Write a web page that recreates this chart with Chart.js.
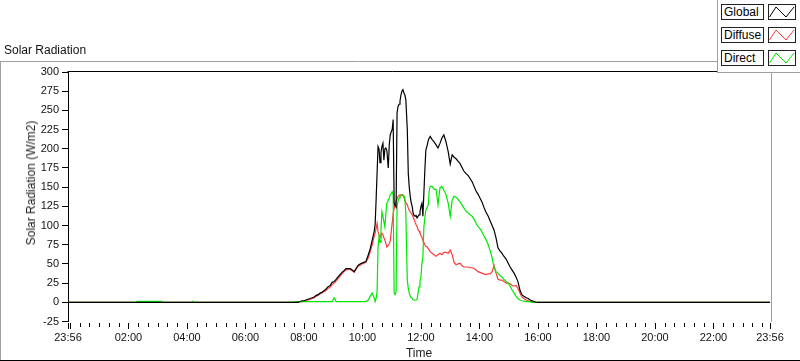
<!DOCTYPE html>
<html>
<head>
<meta charset="utf-8">
<script src="https://cdn.jsdelivr.net/npm/chart.js@4.4.0/dist/chart.umd.min.js"></script>
<style>
html,body{margin:0;padding:0;background:#fff;}
#wrap{position:relative;width:800px;height:361px;overflow:hidden;font-family:"Liberation Sans",Arial,sans-serif;}
#c{position:absolute;left:0;top:0;}
.title{position:absolute;left:4px;top:43px;font-size:12px;line-height:14px;color:#111;white-space:nowrap;}
.ytitle{position:absolute;left:31px;top:183px;font-size:12px;line-height:14px;color:#222;white-space:nowrap;transform:translate(-50%,-50%) rotate(-90deg);}
#legend{position:absolute;left:717px;top:0;width:83px;height:73px;background:#fff;border-left:1px solid #a0a0a0;border-bottom:1px solid #a0a0a0;box-sizing:border-box;}
.lt{position:absolute;left:3px;width:43px;height:16px;border:1px solid #222;box-sizing:border-box;font-size:12px;line-height:14px;padding-left:2px;color:#000;white-space:nowrap;}
.ls{position:absolute;left:50px;width:28px;height:16px;border:1px solid #222;box-sizing:border-box;}
.ls svg{position:absolute;left:0;top:0;}
</style>
</head>
<body>
<div id="wrap">
<canvas id="c" width="800" height="361"></canvas>
<div class="title">Solar Radiation</div>
<div class="ytitle">Solar Radiation (W/m2)</div>
<div id="legend"></div>
</div>
<script>
// ---- data (minutes since midnight) ----
const timesMin = [-4,136,138,188,190,250,252,254,456,
464,468,472,476,480,484,488,493,497,501,505,509,513,517,521,525,529,534,538,542,546,550,554,558,562,566,571,575,579,583,587,591,595,599,603,607,612,616,620,624,
626,628,630,632,634,636,638,640,642,644,646,648,650,653,655,657,659,661,663,665,667,669,671,673,675,677,679,681,683,685,687,689,692,694,696,698,700,702,704,706,708,710,712,714,716,718,720,722,724,726,728,730,733,735,737,
739,743,747,751,755,759,763,767,771,776,780,784,788,792,796,800,804,808,812,817,821,825,829,833,837,841,845,849,853,858,862,866,870,874,878,882,886,890,895,899,903,907,911,915,919,923,927,931,936,940,944,948,952,956,1436];

const globalRad = [0,0,0,0,0,0,0,0,0,
0,0,1,2,2,3,4,5,6,7,9,10,12,13,15,17,20,22,26,27,30,33,36,39,41,44,44,44,42,40,44,48,50,51,52,53,62,70,81,92,
101,133,168,203,200,182,195,203,207,185,200,201,198,175,205,218,222,225,238,130,126,124,247,255,258,262,270,275,277,273,270,264,225,168,150,138,130,125,116,113,112,113,110,112,114,118,125,129,112,142,172,198,205,211,214,
216,212,209,205,201,207,214,218,210,196,180,192,189,187,184,181,176,171,168,165,161,157,151,145,141,136,131,124,118,112,106,100,94,84,71,67,64,60,56,51,46,42,38,33,27,16,10,8,6,5,3,2,1,0,0];

const diffuseRad = [0,0,0,0,0,0,0,0,0,
0,0,0.5,1,1.5,2,3,4,5,6,8,9,11,12,14,15,18,20,23,25,28,31,34,37,40,42,43,43,41,39,43,47,48,50,51,52,58,66,75,86,
90,96,103,92,88,85,88,90,88,84,81,77,72,74,76,80,92,103,116,122,128,132,135,138,139,140,140,140,139,137,133,130,127,123,120,118,116,114,111,108,104,101,99,95,93,90,87,85,80,78,75,73,72,70,68,
66,64,62,60,62,64,62,65,65,64,68,62,52,49,50,51,48,46,46,46,45,45,44,42,40,39,38,37,36,37,37,40,48,38,30,29,29,27,25,25,24,22,21,22,18,12,7,5,3,2,1.5,1,0,0,0];

const directRad = [0,0,1.2,1.2,0,0,1.2,0,0,
1,1,1,1,1,1,1,1,1,1,1,1,1,1,1,1,1,1,1,6,1,1,1,1,1,1,1,1,1,1,1,1,1,1,1,1,3,8,12,6,
1,5,14,72,85,78,95,118,112,105,98,115,129,133,136,140,142,144,140,12,10,14,125,132,136,138,139,140,140,139,135,115,29,18,12,8,6,5,3,3,3,3,4,12,20,28,33,51,59,98,110,120,124,127,146,
151,151,147,147,127,149,151,146,141,129,112,133,138,137,134,131,127,123,119,116,114,112,108,103,99,96,92,87,82,75,67,58,45,40,38,35,33,30,27,25,21,16,12,8,5,3,2,1.5,1,1,0.5,0,0,0,0];

const yTickValues = [-25,0,25,50,75,100,125,150,175,200,225,250,275,300];
const xLabelMinutes = [-4,120,240,360,480,600,720,840,960,1080,1200,1320,1436];
const xLabelTexts = ['23:56','02:00','04:00','06:00','08:00','10:00','12:00','14:00','16:00','18:00','20:00','22:00','23:56'];
const xMinorStep = 20;
const seriesNames = ['Global','Diffuse','Direct'];
const seriesColors = ['#000000','#ff3c3c','#00e800'];

// ---- legend (HTML) ----
const legend = document.getElementById('legend');
seriesNames.forEach((name, i) => {
  const top = 4 + i * 23;
  const t = document.createElement('div');
  t.className = 'lt'; t.style.top = top + 'px'; t.textContent = name;
  const s = document.createElement('div');
  s.className = 'ls'; s.style.top = top + 'px';
  s.innerHTML = '<svg width="26" height="14"><polyline points="0.5,12 7,2 17,12 25,2" fill="none" stroke="' + seriesColors[i] + '" stroke-width="1"/></svg>';
  legend.appendChild(t); legend.appendChild(s);
});

const toXY = arr => timesMin.map((t, i) => ({x: t, y: arr[i]}));
const FONT = {family: '"Liberation Sans", Arial, sans-serif', size: 11};

const framePlugin = {
  id: 'frame',
  afterDraw(chart) {
    const ctx = chart.ctx, ca = chart.chartArea, xs = chart.scales.x;
    ctx.save();
    ctx.lineWidth = 1;
    ctx.strokeStyle = '#a0a0a0';
    ctx.beginPath();
    ctx.moveTo(0, 61.5); ctx.lineTo(717, 61.5);
    ctx.moveTo(0.5, 61); ctx.lineTo(0.5, 360);
    ctx.stroke();
    ctx.strokeStyle = '#000';
    ctx.beginPath(); ctx.moveTo(0, 360.5); ctx.lineTo(800, 360.5); ctx.stroke();
    ctx.beginPath(); ctx.moveTo(Math.round(ca.left) - 0.5, Math.round(ca.top) - 0.5); ctx.lineTo(717, Math.round(ca.top) - 0.5); ctx.stroke();
    ctx.strokeStyle = '#a0a0a0';
    ctx.beginPath(); ctx.moveTo(771.5, 72); ctx.lineTo(771.5, Math.round(ca.bottom)); ctx.stroke();
    ctx.strokeStyle = '#000';
    ctx.beginPath();
    const y0 = Math.round(ca.bottom) + 1;
    xs.ticks.forEach(tk => {
      const v = tk.value;
      const major = (v === xLabelMinutes[0] || v === xLabelMinutes[xLabelMinutes.length - 1] || v % 120 === 0);
      const px = Math.round(xs.getPixelForValue(v)) + 0.5;
      ctx.moveTo(px, y0); ctx.lineTo(px, y0 + (major ? 6 : 4));
    });
    ctx.stroke();
    ctx.restore();
  }
};

new Chart(document.getElementById('c'), {
  type: 'line',
  data: {
    datasets: [
      {label: seriesNames[0], data: toXY(globalRad), borderColor: seriesColors[0], order: 1},
      {label: seriesNames[1], data: toXY(diffuseRad), borderColor: seriesColors[1], order: 3},
      {label: seriesNames[2], data: toXY(directRad), borderColor: seriesColors[2], order: 2}
    ]
  },
  options: {
    responsive: false,
    animation: false,
    devicePixelRatio: 1,
    layout: {padding: {top: 72, right: 30, bottom: 0, left: 0}},
    elements: {line: {borderWidth: 1.2, tension: 0, fill: false}, point: {radius: 0, hoverRadius: 0}},
    plugins: {legend: {display: false}, tooltip: {enabled: false}, title: {display: false}},
    events: [],
    scales: {
      x: {
        type: 'linear', min: -4, max: 1436,
        afterBuildTicks: s => {
          const t = [{value: xLabelMinutes[0]}];
          for (let v = 0; v <= 1420; v += xMinorStep) t.push({value: v});
          t.push({value: xLabelMinutes[xLabelMinutes.length - 1]});
          s.ticks = t;
        },
        afterFit: s => { s.height = 39.5; },
        ticks: {
          autoSkip: false, maxRotation: 0, minRotation: 0, padding: 2, font: FONT, color: '#111',
          callback: v => { const k = xLabelMinutes.indexOf(v); return k >= 0 ? xLabelTexts[k] : ''; }
        },
        grid: {display: false},
        border: {display: false},
        title: {display: true, text: 'Time', color: '#222', font: {family: FONT.family, size: 12}, padding: {top: 0, bottom: 0}}
      },
      y: {
        min: -25, max: 300,
        afterBuildTicks: s => { s.ticks = yTickValues.map(v => ({value: v})); },
        afterFit: s => { s.width = 68; },
        ticks: {font: FONT, color: '#111', padding: 3},
        grid: {drawOnChartArea: false, tickLength: 6, color: '#000', tickColor: '#000'},
        border: {display: true, color: '#000', width: 1}
      }
    }
  },
  plugins: [framePlugin]
});
</script>
</body>
</html>
